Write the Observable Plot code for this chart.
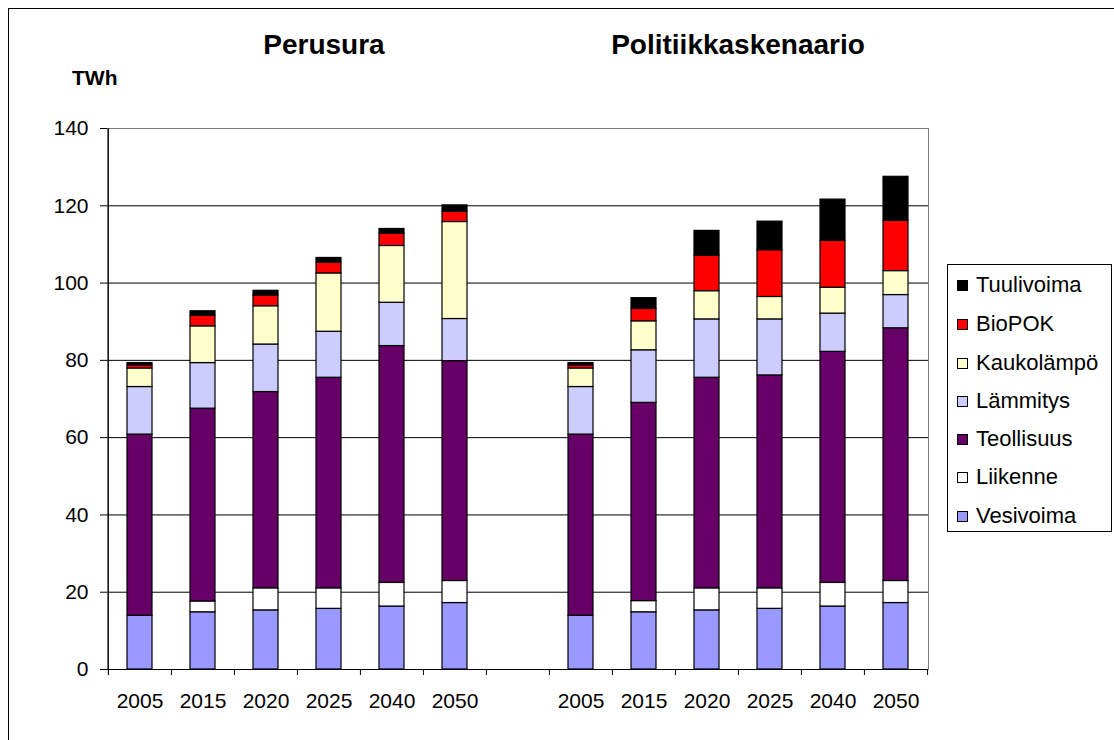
<!DOCTYPE html>
<html>
<head>
<meta charset="utf-8">
<script src="https://cdn.jsdelivr.net/npm/d3@7"></script>
<script src="https://cdn.jsdelivr.net/npm/@observablehq/plot@0.6"></script>
<style>
  html, body { margin: 0; padding: 0; background: #fff; }
  body { width: 1114px; height: 740px; position: relative; overflow: hidden; font-family: "Liberation Sans", Arial, sans-serif; }
  #frame { position: absolute; left: 8px; top: 8px; width: 1200px; height: 800px; border-left: 1px solid #000; border-top: 1px solid #000; }
  #chart { position: absolute; left: 0; top: 0; }
  .title { position: absolute; font-weight: bold; font-size: 28px; transform: translateX(-50%); white-space: nowrap; }
  #unit { position: absolute; left: 72px; top: 66px; font-weight: bold; font-size: 21px; }
  #legend { position: absolute; left: 947px; top: 264px; width: 165px; height: 268px; border: 1px solid #000; box-sizing: border-box; background: #fff; }
  .item { position: absolute; left: 9px; height: 24px; display: flex; align-items: center; font-size: 22px; white-space: nowrap; }
  .sw { width: 11px; height: 11px; border: 1px solid #000; margin-right: 8px; box-sizing: border-box; }
</style>
</head>
<body>
<div id="frame"></div>
<div id="chart"></div>
<div class="title" style="left:324px; top:29px;">Perusura</div>
<div class="title" style="left:738px; top:29px;">Politiikkaskenaario</div>
<div id="unit">TWh</div>
<div id="legend"></div>
<script>
// ---- data ----
const years = ["2005", "2015", "2020", "2025", "2040", "2050"];
const scenarios = ["Perusura", "Politiikkaskenaario"];
const series = ["Vesivoima", "Liikenne", "Teollisuus", "Lämmitys", "Kaukolämpö", "BioPOK", "Tuulivoima"];
const colors = ["#9999FF", "#FFFFFF", "#660066", "#CCCCFF", "#FFFFCC", "#FF0000", "#000000"];
const yTicks = [0, 20, 40, 60, 80, 100, 120, 140];

// segment values (TWh) per series, by year
const perusura = {
  "Vesivoima":  [13.9, 14.8, 15.3, 15.7, 16.3, 17.2],
  "Liikenne":   [0.0, 2.8, 5.7, 5.3, 6.1, 5.7],
  "Teollisuus": [46.9, 49.9, 50.8, 54.5, 61.3, 56.9],
  "Lämmitys":   [12.3, 11.8, 12.3, 11.9, 11.2, 10.9],
  "Kaukolämpö": [4.8, 9.5, 9.9, 15.1, 14.7, 25.1],
  "BioPOK":     [0.8, 2.7, 2.8, 2.8, 3.2, 2.7],
  "Tuulivoima": [0.6, 1.2, 1.2, 1.2, 1.2, 1.6]
};
const politiikka = {
  "Vesivoima":  [13.9, 14.8, 15.3, 15.7, 16.3, 17.2],
  "Liikenne":   [0.0, 2.9, 5.7, 5.3, 6.1, 5.7],
  "Teollisuus": [46.9, 51.3, 54.5, 55.1, 59.8, 65.4],
  "Lämmitys":   [12.3, 13.6, 15.1, 14.5, 9.9, 8.6],
  "Kaukolämpö": [4.8, 7.5, 7.3, 5.8, 6.7, 6.2],
  "BioPOK":     [0.8, 3.2, 9.2, 12.1, 12.1, 13.0],
  "Tuulivoima": [0.6, 2.8, 6.4, 7.4, 10.7, 11.4]
};

// ---- build table ----
const keyOf = (s, y) => s + "|" + y;
const domain = [
  ...years.map(y => keyOf(scenarios[0], y)),
  "gap",
  ...years.map(y => keyOf(scenarios[1], y))
];
const rows = [];
for (const [sc, tbl] of [[scenarios[0], perusura], [scenarios[1], politiikka]]) {
  for (const s of series) {
    years.forEach((y, i) => {
      rows.push({key: keyOf(sc, y), series: s, value: tbl[s][i]});
    });
  }
}

const W = 1114, H = 740;
const mL = 107, mR = 186, mT = 128, mB = 71;
const step = (W - mL - mR) / domain.length;
const font = "'Liberation Sans', Arial, sans-serif";

const plot = Plot.plot({
  width: W,
  height: H,
  marginLeft: mL,
  marginRight: mR,
  marginTop: mT,
  marginBottom: mB,
  style: {fontFamily: font, fontSize: "21px", color: "#000", background: "transparent", overflow: "visible"},
  x: {
    domain,
    paddingInner: 0.6,
    paddingOuter: 0.3,
    tickSize: 0,
    tickPadding: 24,
    tickFormat: d => (d.includes("|") ? d.split("|")[1] : ""),
    label: null
  },
  y: {
    domain: [0, 140],
    ticks: yTicks,
    tickSize: 7,
    tickPadding: 12,
    label: null
  },
  color: {domain: series, range: colors},
  marks: [
    Plot.frame({stroke: "#808080"}),
    Plot.ruleY(yTicks.filter(t => t > 0 && t < 140), {stroke: "#000", strokeWidth: 1}),
    Plot.barY(rows.filter(d => d.value > 0), {
      x: "key", y: "value", fill: "series", stroke: "#000", strokeWidth: 1.2
    }),
    Plot.ruleY([0], {stroke: "#000"}),
    // category boundary ticks
    Plot.ruleX(domain, {x: d => d, y1: 0, y2: 0, dx: -step / 2, insetBottom: -6, stroke: "#000"}),
    Plot.ruleX([domain[domain.length - 1]], {x: d => d, y1: 0, y2: 0, dx: step / 2, insetBottom: -6, stroke: "#000"}),
    // y axis line
    Plot.ruleX([domain[0]], {x: d => d, y1: 140, y2: 0, dx: -step / 2, insetBottom: -6, stroke: "#000"})
  ]
});
document.getElementById("chart").appendChild(plot);

// ---- legend ----
const legend = document.getElementById("legend");
const rowsTop = [8, 47, 86, 124, 162, 200, 239];
series.slice().reverse().forEach((s, i) => {
  const c = colors[series.indexOf(s)];
  const it = document.createElement("div");
  it.className = "item";
  it.style.top = rowsTop[i] + "px";
  it.innerHTML = `<span class="sw" style="background:${c}"></span><span>${s}</span>`;
  legend.appendChild(it);
});
</script>
</body>
</html>
